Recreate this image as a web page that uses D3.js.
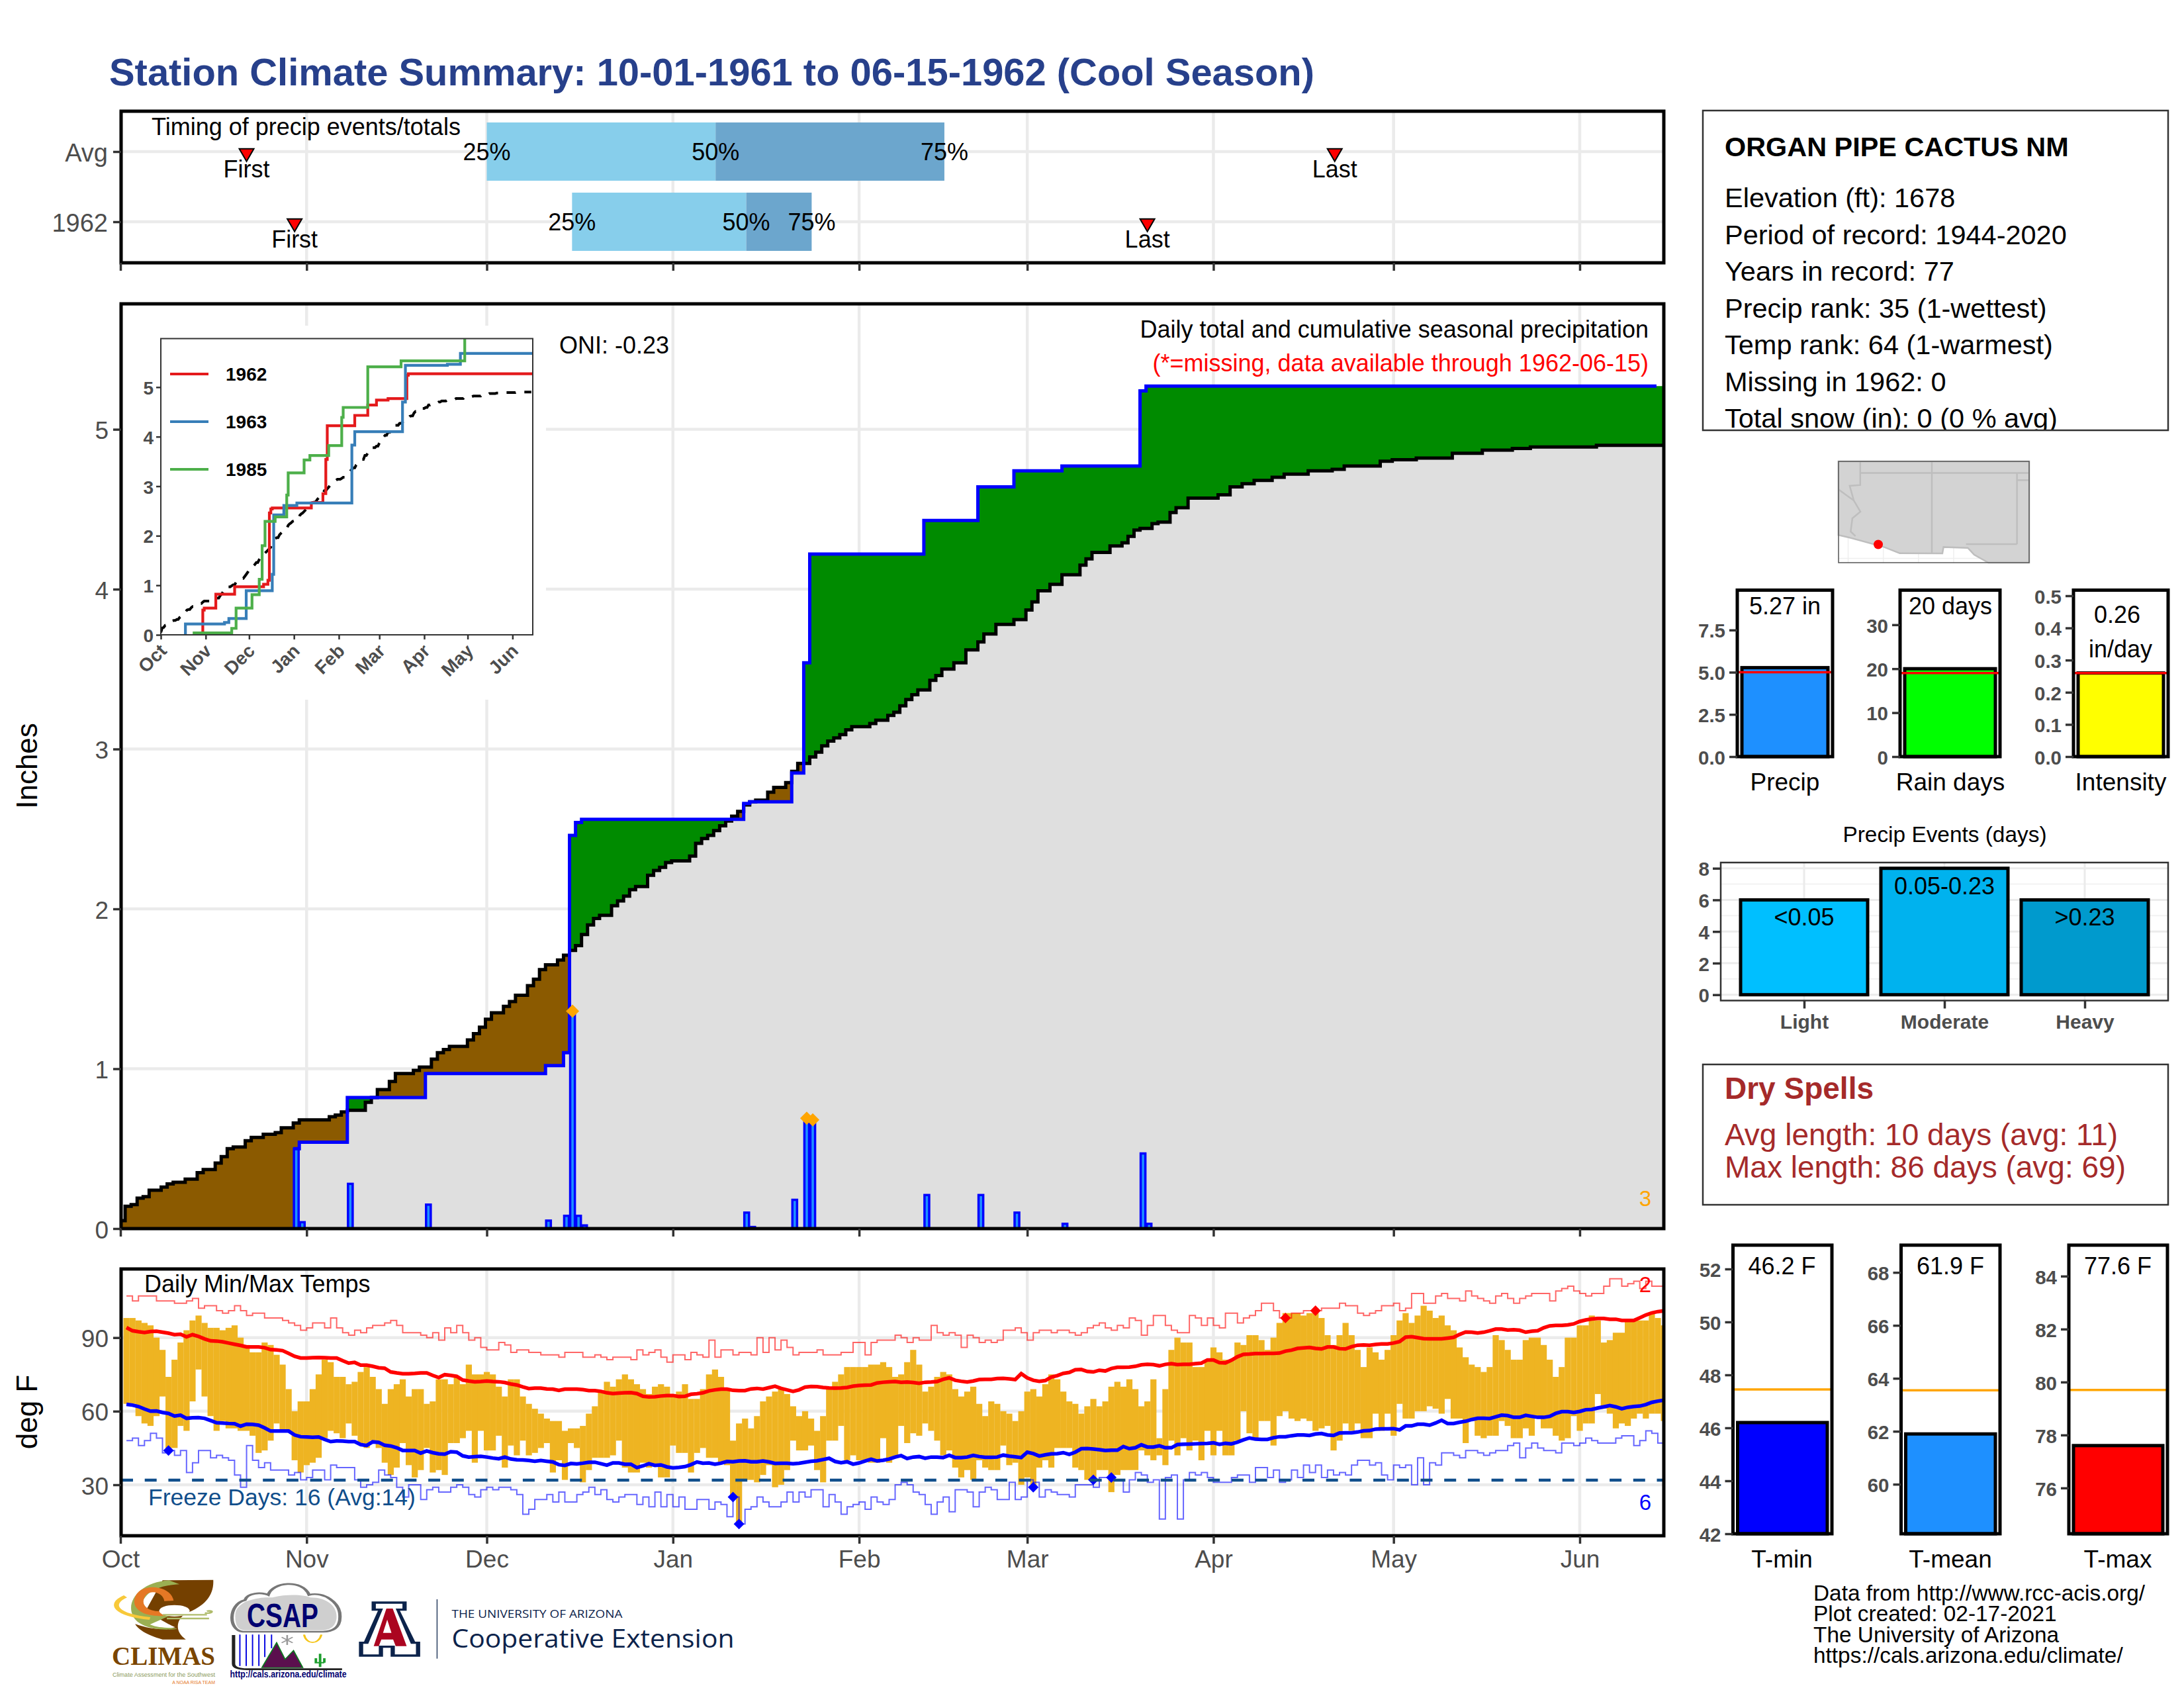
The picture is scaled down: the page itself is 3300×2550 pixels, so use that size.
<!DOCTYPE html>
<html lang="en">
<head>
<meta charset="utf-8">
<title>Station Climate Summary</title>
<script src="https://d3js.org/d3.v7.min.js"></script>
<style>
  html, body { margin: 0; padding: 0; background: #fff; }
  text { font-family: "Liberation Sans", Arial, sans-serif; }
</style>
</head>
<body>
<script type="text/javascript">
'use strict';

// ---- data ----
var seasonStart = "1961-10-01", seasonEnd = "1962-06-15";

// days since Oct 1 with rain, and the amount in inches
var rainDay = [29,30,38,51,71,74,75,76,77,104,105,112,114,115,134,143,149,157,170,171];
var rainAmt = [.50,.04,.28,.15,.05,.08,1.36,.08,.02,.10,.01,.18,.69,.68,.21,.21,.10,.03,.47,.03];
var markedRainDay = [75,114,115];

// long term average cumulative precip, one per day
var avgCum = [.05,.14,.15,.19,.20,.24,.24,.26,.28,.29,.29,.31,.31,.35,.37,.37,.41,.45,.50,.51,.51,.55,.57,.57,.59,.59,.60,.63,.63,.66,
 .68,.68,.68,.68,.68,.70,.71,.73,.74,.74,.74,.79,.82,.87,.87,.92,.97,.97,.97,.99,1.01,1.01,1.06,1.10,1.12,1.14,1.14,1.14,1.18,1.22,
 1.26,1.31,1.35,1.35,1.39,1.42,1.46,1.46,1.52,1.56,1.62,1.65,1.65,1.68,1.71,1.74,1.77,1.84,1.90,1.94,1.96,1.96,2.02,2.05,2.08,2.12,2.14,2.14,2.21,2.24,
 2.26,2.29,2.30,2.30,2.30,2.33,2.41,2.44,2.46,2.49,2.52,2.55,2.58,2.61,2.65,2.67,2.68,2.68,2.73,2.76,2.76,2.79,2.86,2.91,2.91,2.95,2.98,3.02,3.05,3.07,
 3.09,3.12,3.14,3.14,3.14,3.16,3.18,3.18,3.21,3.23,3.27,3.31,3.34,3.37,3.37,3.43,3.46,3.50,3.50,3.54,3.54,3.62,3.62,3.67,3.72,3.72,3.78,3.78,3.78,3.81,
 3.81,3.87,3.92,3.99,3.99,4.03,4.03,4.09,4.09,4.09,4.15,4.19,4.23,4.23,4.23,4.27,4.27,4.29,4.33,4.37,4.38,4.38,4.41,4.42,4.42,4.48,4.51,4.51,4.57,4.57,
 4.57,4.57,4.57,4.59,4.59,4.64,4.64,4.66,4.66,4.68,4.68,4.68,4.70,4.70,4.72,4.72,4.72,4.72,4.74,4.74,4.74,4.74,4.75,4.75,4.77,4.77,4.77,4.77,4.77,4.77,
 4.80,4.80,4.81,4.81,4.81,4.81,4.82,4.82,4.82,4.82,4.82,4.82,4.85,4.85,4.85,4.85,4.85,4.87,4.87,4.87,4.87,4.87,4.88,4.88,4.88,4.89,4.89,4.89,4.89,4.89,
 4.89,4.89,4.89,4.89,4.89,4.89,4.90,4.90,4.90,4.90,4.90,4.90,4.90,4.90,4.90,4.90,4.90];

// other years in the inset: change points of the cumulative line
var y1963Day = [17,44,47,59,77,78,85,94,132,134,167,169,198,207];
var y1963Val = [.22,.25,.33,.89,1.22,2.42,2.61,2.66,3.83,4.10,4.70,5.44,5.46,5.68];
var y1985Day = [23,49,52,63,68,70,72,79,87,88,99,103,116,125,126,143,166,210];
var y1985Val = [.04,.13,.54,.81,1.12,1.80,2.29,2.38,2.82,3.27,3.53,3.62,3.82,4.39,4.59,5.41,5.53,6.2];

// timing strip
var timingRows = ["Avg", "1962"];
var timingQ25 = [61, 75.2], timingQ50 = [99.1, 104.2], timingQ75 = [137.2, 115.1];
var timingFirst = [21, 29], timingLast = [202.2, 171];

// daily max and min temperature, deg F
var tmax = [98,98,97,96,95,90,85,74,81,88,93,97,99,96,94,94,93,94,95,90,87,84,84,88,87,83,79,69,60,64,
 64,69,75,81,80,74,74,71,72,76,78,74,69,63,69,71,73,66,69,69,63,64,73,73,71,74,71,79,75,75,
 76,75,70,66,73,73,66,63,61,59,57,56,56,52,53,53,54,59,62,68,72,70,73,75,73,71,69,67,70,71,
 70,67,68,71,65,65,69,75,77,74,69,48,55,57,53,58,64,66,68,69,67,62,58,60,57,52,58,69,72,75,
 78,78,78,78,79,79,80,78,74,75,80,85,79,68,70,74,76,75,69,66,68,70,63,58,64,63,60,59,56,60,
 68,69,66,71,75,73,68,64,63,59,62,65,62,64,70,72,70,73,69,62,64,73,49,69,85,90,88,88,78,78,
 81,86,84,81,81,88,87,91,91,89,85,90,96,100,100,100,99,100,100,98,91,87,91,96,91,85,78,86,84,81,
 85,91,97,100,96,99,103,101,98,99,95,93,86,82,79,78,76,78,91,89,85,81,81,89,90,90,87,81,74,78,
 90,90,95,95,99,97,88,89,92,92,97,97,97,97,100,98,95];
var tmin = [63,63,58,55,54,58,66,45,45,54,52,64,77,66,58,52,56,53,53,52,52,50,43,44,48,55,52,52,40,35,
 38,39,41,49,52,51,49,55,50,47,45,48,45,39,34,37,47,38,33,36,45,35,36,34,47,47,49,52,39,52,
 44,44,50,37,46,42,48,42,43,45,47,35,40,32,47,45,31,36,41,41,41,42,48,37,35,35,39,37,38,33,
 33,46,43,43,35,43,45,41,41,39,38,25,14,32,32,31,34,38,29,30,36,48,44,44,46,36,31,48,48,54,
 40,42,40,40,39,39,49,39,41,54,47,51,50,55,52,48,42,44,37,33,36,32,40,37,36,36,46,38,39,30,
 33,30,37,40,37,45,45,45,37,36,32,32,36,36,27,34,36,36,36,44,42,40,42,38,48,42,49,44,48,40,
 52,42,52,42,42,48,60,51,49,56,56,46,58,60,57,56,57,56,52,53,54,44,48,55,52,55,49,49,59,52,
 59,50,63,57,57,60,60,62,61,59,65,57,57,47,56,50,49,50,50,56,54,49,49,53,50,58,53,53,50,48,
 49,58,52,55,55,67,61,59,53,55,54,57,59,57,59,59,56];

// climatological mean max and min
var normHigh = [94.1,92.8,92.4,92.1,92.5,92.6,92.2,91.8,91.2,91.4,90.3,91.2,90.5,89.5,88.7,88.6,88.3,87.8,87.3,86.8,86.2,86.2,86.2,85.9,85.1,85,84.7,83.6,82.4,81.7,
 81.7,81.8,81.9,81.8,81.7,81.7,80.6,79.6,79.9,78.8,78.8,78.3,77.7,77.5,76,75.6,75.3,75.3,75.4,75.6,75.6,74.6,73.7,74.9,74.6,74.2,72.7,72.3,72,72.1,
 72.3,72.1,72,71.7,71.1,70.7,69.9,69.2,69.4,69.4,69.1,69,68.5,69,69,69,68.8,68.4,68.4,68.1,67.5,67.2,67.4,67.5,67.6,67.2,66.1,65.8,65.9,66.2,
 66.4,66.4,66,66.1,66.9,67.1,67.5,68.3,68.7,69,69,68.5,68.4,68.4,69.1,69.3,69,69.6,70.2,69.3,68.7,68.1,68.7,69.8,70.1,70,69.7,69.5,69.4,69.5,
 69.7,70.2,70.5,70.6,70.7,71.5,71.8,72,72.1,71.8,71.9,71.7,71.4,71.8,71.9,72.1,73,73.6,72.6,72.2,71.9,72.3,72.9,73,73,73.3,73.4,73.2,72.9,75.3,
 73.6,72.6,72.2,72.5,73.9,74.5,75.4,75.8,76.9,77,76.2,76,76.7,76.4,77.4,77.9,77.9,78,78.3,78.9,79.1,79,78.5,79.1,79.4,79,79.1,79.1,79.4,79.6,
 80.9,80.9,79.8,79.7,80.8,82.2,83.2,83.3,83.5,83.5,83.6,83.6,83.7,84.5,84.9,85.6,85.8,86,85.6,85.4,86.2,86.2,85.5,85.4,86.3,86.9,87,86.9,87.2,87.4,
 87.4,87.8,88.4,90.2,90.4,90,89.6,89.5,89.5,89.5,89.8,90.1,91.3,92.3,92.2,91.9,92.2,92.8,93.5,93.5,93.1,93.2,93,92.2,92.6,92.8,94,94.8,95,95,
 95.2,95.6,96.6,97.2,97.6,97.8,97.8,97.5,97.5,97,97,97,98.1,99.2,100.1,100.6,100.9];
var normLow = [62.8,62.5,61.9,60.9,60,60.1,59.5,59.1,58,58.4,57.1,57.3,57.4,57.1,56.2,55.3,55.2,55,54.9,53.9,54.7,54.6,54.3,53.2,51.9,51.9,51.9,51.9,50.3,49.6,
 49.5,49.4,49.5,48.5,47.6,47.9,47.8,47.6,47.6,46.4,46,47.5,47.3,46.1,45.8,45.1,44,44,44,42.9,43.8,43.1,42.6,42.5,43.5,43.3,41.8,41.3,41.5,41.6,
 41.3,40.9,40.6,41.3,40.5,40.2,40.1,39.9,39.6,39.9,39.6,39.3,38.2,37.9,38.7,38.5,38.8,39.2,39.2,38.6,38,38.9,38.9,38.4,38.4,37,37.7,38.6,37.9,38.1,
 37.3,36.9,37.1,37.4,38.2,39.3,38.8,38.9,38.4,38.8,39.5,39.4,39.7,39.8,39.4,39.4,39.7,39.3,38.7,38.8,38.8,38.6,38.8,39.2,39.6,39.8,40.3,40.8,39.5,39,
 39.4,38.4,38.9,39.7,40.4,39.7,40,40.5,41.3,41.9,40.7,41.3,41.5,40.8,41.3,41.3,41.1,42,41.1,41.1,41.3,42,41.5,41.2,41.2,41.3,42.1,41.7,41.4,41.1,
 43.3,42.7,41.7,42.2,42.6,42.7,43.1,42.4,43.3,44.7,44.8,44.6,44.3,44,44.1,44.1,45.6,44.7,45.1,46.3,45.4,45.4,45.9,45.1,45.1,46.4,46.5,46.6,46.7,46.8,
 46.9,47.1,46.5,46.9,46.7,47.4,48.3,49.1,48.6,48.5,48.5,49.2,49.6,49.6,50,50.3,50.3,50.1,50.7,50.9,50.3,50.1,51.1,51.2,51.2,51.5,52,52.1,52.7,52.8,
 52.8,52.9,52.4,54,54,54.7,54.7,54.3,55.2,56.3,55,55,55.5,55.9,56.6,57.1,57.1,57,57.7,58.4,58.2,57.5,57.5,58.3,57.9,57.5,57.5,57.9,59.1,59.8,
 59.8,59.5,59.9,60.6,60.7,61.3,61.8,62.3,61.8,61,61.6,61.9,62.1,62.7,63.6,64.1,64.5];

// daily records
var recHigh = [107,105,107,107,107,105,105,105,104,104,105,106,102,103,103,101,100,101,103,101,99,100,100,98,98,98,97,96,95,93,
 94,96,96,94,98,94,92,91,93,92,94,95,95,96,97,95,92,92,92,91,90,92,89,94,92,95,92,89,90,86,
 85,85,88,87,84,85,85,84,84,83,83,83,82,84,84,84,82,82,83,82,81,82,82,82,81,85,83,84,85,82,
 80,83,83,81,84,83,82,89,82,85,85,83,84,84,83,90,84,90,85,89,86,83,84,84,84,85,83,83,83,84,
 84,88,88,83,88,89,89,89,91,90,88,90,89,89,95,92,91,92,91,86,91,90,88,89,88,89,93,93,94,92,
 89,92,93,93,92,93,93,92,91,92,94,95,96,94,93,95,94,98,97,91,95,99,99,95,93,92,92,99,98,95,
 98,95,94,100,100,96,98,99,101,104,104,101,98,98,100,100,101,101,101,102,102,102,104,103,103,100,99,100,101,103,
 103,104,101,102,108,108,104,104,107,108,106,106,105,109,107,106,105,104,107,108,106,104,106,107,108,108,108,105,109,110,
 111,109,108,107,108,108,111,114,114,111,112,113,110,113,111,111,112];
var recLow = [48,49,46,48,51,49,43,44,42,44,35,39,44,44,41,42,41,40,34,29,46,40,37,39,36,36,36,34,35,32,
 33,36,36,32,38,37,37,37,32,29,30,31,36,34,33,29,25,30,30,24,28,29,27,27,29,30,29,26,25,28,
 29,28,29,29,28,26,18,20,24,24,26,23,27,23,23,26,27,29,26,28,24,23,25,26,26,22,25,21,27,21,
 26,21,25,20,20,24,24,20,23,22,17,25,14,20,21,25,23,21,21,23,27,23,27,25,28,28,21,26,23,18,
 21,22,23,20,25,23,22,24,30,31,30,27,26,22,18,23,25,19,28,28,27,21,27,29,28,24,24,31,24,25,
 32,31,25,28,27,26,26,25,30,30,30,29,33,33,32,32,27,32,35,34,31,32,16,33,34,16,32,35,34,35,
 33,31,31,31,33,34,34,31,37,37,33,36,31,32,36,33,38,35,38,33,36,34,35,34,38,40,40,38,39,34,
 32,38,37,38,30,41,30,39,38,43,43,42,41,44,44,43,42,43,44,44,46,47,41,45,47,45,44,44,43,47,
 47,46,47,49,48,47,47,47,49,50,50,46,48,52,51,47,52];

// days that tied or beat a record
var hotRecordDay = [193,198], hotRecordTemp = [98,101];
var coldRecordDay = [7,101,102,151,161,164], coldRecordTemp = [44,25,14,29,32,33];

// summary bars
var precipTotal = 5.27, precipAvg = 5.0;
var rainDaysTotal = 20, rainDaysAvg = 19;
var intensityVal = .26, intensityAvg = .26;
var eventCats = ["Light","Moderate","Heavy"];
var eventVals = [6,8,6];
var eventLabels = ["<0.05","0.05-0.23",">0.23"];
var tempVals = [46.2,61.9,77.6];
var tempAvgs = [47.45,63.55,79.7];
var tempLabels = ["T-min","T-mean","T-max"];

var infoLines = ["Elevation (ft): 1678","Period of record: 1944-2020","Years in record: 77",
  "Precip rank: 35 (1-wettest)","Temp rank: 64 (1-warmest)","Missing in 1962: 0","Total snow (in): 0 (0 % avg)"];
var footerLines = ["Data from http://www.rcc-acis.org/","Plot created: 02-17-2021","The University of Arizona","https://cals.arizona.edu/climate/"];

// locator map, lon/lat
var usBorderLon = [-115.69,-114.93,-112.45,-111.33,-108.30,-108.22,-106.49,-106.04,-105.03,-102.13,-102.13,-115.69];
var usBorderLat = [32.64,32.47,31.80,31.36,31.35,31.80,31.74,31.26,30.70,30.70,37.82,37.82];
var stateLines = [
  [[-114.14,37.82],[-114.14,36.16],[-114.89,36.10],[-114.60,35.07],[-114.13,34.29],[-114.70,33.82],[-114.82,32.89],[-114.48,32.57]],
  [[-115.69,35.85],[-114.60,35.07]],
  [[-114.14,37],[-102.13,37]],
  [[-109.05,37.82],[-109.05,31.34]],
  [[-103,37],[-103,32]],
  [[-106.62,32],[-103,32]],
  [[-103,36.5],[-102.13,36.5]]
];
var stationLon = -112.86, stationLat = 31.98;

// ---- page ----
var w = 3300, h = 2550;
var svg = d3.select("body").append("svg").attr("width", w).attr("height", h);
svg.append("rect").attr("width", w).attr("height", h).attr("fill", "#fff");
var defs = svg.append("defs");
var gridCol = "#EBEBEB", axisCol = "#333333", labCol = "#4D4D4D";

function addText(g, x, y, str, size, opt) {
  opt = opt || {};
  var t = g.append("text").attr("x", x).attr("y", y).text(str)
    .attr("font-size", size).attr("fill", opt.fill || "#000")
    .attr("text-anchor", opt.anchor || "start")
    .attr("font-weight", opt.weight || "normal");
  if (opt.family) t.style("font-family", opt.family);
  if (opt.len) t.attr("textLength", opt.len).attr("lengthAdjust", "spacingAndGlyphs");
  return t;
}
function addClip(id, x0, y0, x1, y1) {
  defs.append("clipPath").attr("id", id).append("rect")
    .attr("x", x0).attr("y", y0).attr("width", x1 - x0).attr("height", y1 - y0);
  return "url(#" + id + ")";
}
function frame(g, x0, y0, x1, y1, col, sw) {
  g.append("rect").attr("x", x0).attr("y", y0).attr("width", x1 - x0).attr("height", y1 - y0)
    .attr("fill", "none").attr("stroke", col).attr("stroke-width", sw);
}
function styleAxis(a, size, bold, tickW) {
  a.select(".domain").remove();
  a.selectAll(".tick line").attr("stroke", axisCol).attr("stroke-width", tickW || 3.5);
  a.selectAll(".tick text").attr("fill", labCol).attr("font-size", size)
    .attr("font-weight", bold ? "bold" : "normal")
    .style("font-family", '"Liberation Sans", Arial, sans-serif');
  a.selectAll('.tick text[dy="0.32em"]').attr("dy", "0.38em");
}
function rotatedSquare(size) {
  return d3.symbol().type(d3.symbolSquare).size(size)();
}

addText(svg, 165, 129, "Station Climate Summary: 10-01-1961 to 06-15-1962 (Cool Season)", 57.9, {fill: "#27408B", weight: "bold"});

// shared time axis
var t0 = d3.isoParse(seasonStart + "T00:00:00Z"), t1 = d3.isoParse(seasonEnd + "T00:00:00Z");
var months = d3.utcMonth.range(t0, t1);
var xT = d3.scaleUtc().domain([t0, t1]).range([182, 2514]);
function xd(i) { return xT(new Date(+t0 + i * 864e5)); }
var panelL = 183, panelR = 2514;
var dayW = xd(1) - xd(0);

function monthGrid(g, y0, y1) {
  g.selectAll(null).data(months).enter().append("line")
    .attr("x1", function(d){ return xT(d); }).attr("x2", function(d){ return xT(d); })
    .attr("y1", y0).attr("y2", y1).attr("stroke", gridCol).attr("stroke-width", 4.5);
}
function valueGrid(g, ticks, scale) {
  g.selectAll(null).data(ticks).enter().append("line")
    .attr("x1", panelL).attr("x2", panelR)
    .attr("y1", function(d){ return scale(d); }).attr("y2", function(d){ return scale(d); })
    .attr("stroke", gridCol).attr("stroke-width", 4.5);
}

// ---- timing strip ----
var gTop = svg.append("g");
var topT = 168, topB = 397;
var yTop = d3.scalePoint().domain(timingRows).range([229, 335]);
monthGrid(gTop, topT, topB);
valueGrid(gTop, timingRows, yTop);
var blue1 = "#87CEEB", blue2 = "#6CA6CD", barHalf = 44;
timingRows.forEach(function(r, k) {
  var yc = yTop(r);
  gTop.append("rect").attr("x", xd(timingQ25[k])).attr("width", xd(timingQ50[k]) - xd(timingQ25[k]))
    .attr("y", yc - barHalf).attr("height", 2 * barHalf).attr("fill", blue1);
  gTop.append("rect").attr("x", xd(timingQ50[k])).attr("width", xd(timingQ75[k]) - xd(timingQ50[k]))
    .attr("y", yc - barHalf).attr("height", 2 * barHalf).attr("fill", blue2);
  [[timingQ25[k], "25%"], [timingQ50[k], "50%"], [timingQ75[k], "75%"]].forEach(function(q) {
    addText(gTop, xd(q[0]), yc + 13, q[1], 36, {anchor: "middle"});
  });
  [[timingFirst[k], "First"], [timingLast[k], "Last"]].forEach(function(m) {
    gTop.append("path").attr("d", d3.symbol().type(d3.symbolTriangle).size(210)())
      .attr("transform", "translate(" + xd(m[0]) + "," + (yc + 2) + ") rotate(180)")
      .attr("fill", "#f00").attr("stroke", "#000").attr("stroke-width", 2);
    addText(gTop, xd(m[0]), yc + 39, m[1], 36, {anchor: "middle"});
  });
});
addText(gTop, 229, 204, "Timing of precip events/totals", 36);
frame(gTop, panelL, topT, panelR, topB, "#000", 5);
var axTopX = gTop.append("g").attr("transform", "translate(0," + topB + ")")
  .call(d3.axisBottom(xT).tickValues(months).tickSize(12).tickFormat(""));
styleAxis(axTopX, 30);
var axTopY = gTop.append("g").attr("transform", "translate(" + panelL + ",0)")
  .call(d3.axisLeft(yTop).tickSize(12).tickPadding(8));
styleAxis(axTopY, 38);

// ---- main precip panel ----
var gMain = svg.append("g");
var mainT = 459, mainB = 1856;
var yP = d3.scaleLinear().domain([0, 5.785]).range([mainB, mainT]);
var precipTicks = [0,1,2,3,4,5];
monthGrid(gMain, mainT, mainB);
valueGrid(gMain, precipTicks, yP);

// white patch behind the inset hides the gridlines
gMain.append("rect").attr("x", panelL + 3).attr("y", 492).attr("width", 825 - panelL - 3).attr("height", 1057 - 492).attr("fill", "#fff");

var daily = d3.range(avgCum.length).map(function(){ return 0; });
rainDay.forEach(function(d, k){ daily[d] = rainAmt[k]; });
var cum = Array.from(d3.cumsum(daily));
var rows = avgCum.map(function(a, i){ return {i: i, avg: a, cum: cum[i]}; });
rows.push({i: avgCum.length, avg: avgCum[avgCum.length - 1], cum: cum[cum.length - 1]});
rows.push({i: avgCum.length + 1, avg: avgCum[avgCum.length - 1], cum: cum[cum.length - 1]});
function xm(i) { return xd(i) - 2; }
var clipMain = addClip("clipMain", panelL, mainT, panelR, mainB);
var gArea = gMain.append("g").attr("clip-path", clipMain);
function stepArea(low, high) {
  return d3.area().curve(d3.curveStepAfter)
    .x(function(d){ return xm(d.i); })
    .y0(function(d){ return yP(low(d)); })
    .y1(function(d){ return yP(high(d)); });
}
function lower(d){ return Math.min(d.avg, d.cum); }
function upper(d){ return Math.max(d.avg, d.cum); }
gArea.append("path").datum(rows).attr("fill", "#DFDFDF").attr("d", stepArea(function(){ return 0; }, lower));
gArea.append("path").datum(rows).attr("fill", "#008B00")
  .attr("d", stepArea(function(d){ return d.avg; }, upper));
gArea.append("path").datum(rows).attr("fill", "#8B5A00")
  .attr("d", stepArea(function(d){ return d.cum; }, upper));

// daily bars
gArea.selectAll("rect.rain").data(rainDay).enter().append("rect").attr("class", "rain")
  .attr("x", function(d){ return xm(d) + 1; })
  .attr("width", dayW - 2)
  .attr("y", function(d, k){ return yP(rainAmt[k]); })
  .attr("height", function(d, k){ return mainB - yP(rainAmt[k]); })
  .attr("fill", "#1E90FF").attr("stroke", "#0000FF").attr("stroke-width", 3.5);

var stepLine = d3.line().curve(d3.curveStepAfter)
  .x(function(d){ return xm(d.i); });
gArea.append("path").datum(rows)
  .attr("fill", "none").attr("stroke", "#000").attr("stroke-width", 5)
  .attr("d", stepLine.y(function(d){ return yP(d.avg); }));
gArea.append("path").datum(rows.filter(function(d){ return d.i >= rainDay[0] && d.i < 257; }))
  .attr("fill", "none").attr("stroke", "#0000FF").attr("stroke-width", 5)
  .attr("d", stepLine.y(function(d){ return yP(d.cum); }));

gArea.selectAll("path.mark").data(markedRainDay).enter().append("path").attr("class", "mark")
  .attr("d", rotatedSquare(200))
  .attr("transform", function(d){ return "translate(" + (xm(d) + dayW / 2) + "," + yP(daily[d]) + ") rotate(45)"; })
  .attr("fill", "#FFA500");

addText(gMain, 2491, 510, "Daily total and cumulative seasonal precipitation", 36, {anchor: "end"});
addText(gMain, 2491, 561, "(*=missing, data available through 1962-06-15)", 36, {anchor: "end", fill: "#f00"});
addText(gMain, 845, 534, "ONI: -0.23", 36);
addText(gMain, 2486, 1822, "3", 33, {anchor: "middle", fill: "#FFA500"});
frame(gMain, panelL, mainT, panelR, mainB, "#000", 5);
var axMainX = gMain.append("g").attr("transform", "translate(0," + mainB + ")")
  .call(d3.axisBottom(xT).tickValues(months).tickSize(12).tickFormat(""));
styleAxis(axMainX, 30);
var axMainY = gMain.append("g").attr("transform", "translate(" + panelL + ",0)")
  .call(d3.axisLeft(yP).tickValues(precipTicks).tickSize(12).tickPadding(7).tickFormat(d3.format("d")));
styleAxis(axMainY, 37);
addText(svg, 0, 0, "Inches", 44, {anchor: "middle"}).attr("transform", "translate(56,1157) rotate(-90)");
addText(svg, 0, 0, "deg F", 44, {anchor: "middle"}).attr("transform", "translate(56,2133) rotate(-90)");

// ---- inset ----
var gIn = svg.append("g");
var inL = 243, inR = 805, inT = 511.5, inB = 959;
var xIn = d3.scaleUtc().domain([t0, t1]).range([inL, inR]);
var yIn = d3.scaleLinear().domain([0, 5.98]).range([inB, inT]);
function xdIn(i){ return xIn(new Date(+t0 + i * 864e5)); }
var clipIn = addClip("clipIn", inL, inT, inR, inB);
var gInLines = gIn.append("g").attr("clip-path", clipIn);
var inLine = d3.line().curve(d3.curveStepAfter)
  .x(function(d){ return xdIn(d[0]); }).y(function(d){ return yIn(d[1]); });
function changePoints(days, vals) {
  var pts = [[days[0], 0]];
  days.forEach(function(d, k){ pts.push([d, vals[k]]); });
  pts.push([257, vals[vals.length - 1]]);
  return pts;
}
var inC1962 = "#E41A1C", inC1963 = "#377EB8", inC1985 = "#4DAF4A";
var cum1962 = [];
rainDay.forEach(function(d){ cum1962.push(cum[d]); });
gInLines.append("path").attr("fill", "none").attr("stroke", "#000").attr("stroke-width", 4)
  .attr("stroke-dasharray", "14 13")
  .attr("d", d3.line().x(function(d, i){ return xdIn(i); }).y(function(d){ return yIn(d); })(avgCum));
gInLines.append("path").attr("fill", "none").attr("stroke", inC1962).attr("stroke-width", 4.2)
  .attr("d", inLine(changePoints(rainDay, cum1962)));
gInLines.append("path").attr("fill", "none").attr("stroke", inC1963).attr("stroke-width", 4.2)
  .attr("d", inLine(changePoints(y1963Day, y1963Val)));
gInLines.append("path").attr("fill", "none").attr("stroke", inC1985).attr("stroke-width", 4.2)
  .attr("d", inLine(changePoints(y1985Day, y1985Val)));
frame(gIn, inL, inT, inR, inB, "#333", 2);
var legendY = d3.scalePoint().domain(["1962","1963","1985"]).range([565, 709]);
[["1962", inC1962], ["1963", inC1963], ["1985", inC1985]].forEach(function(l) {
  gIn.append("line").attr("x1", 257).attr("x2", 315).attr("y1", legendY(l[0])).attr("y2", legendY(l[0]))
    .attr("stroke", l[1]).attr("stroke-width", 4.2);
  addText(gIn, 341, legendY(l[0]) + 10, l[0], 28, {weight: "bold"});
});
var axInY = gIn.append("g").attr("transform", "translate(" + inL + ",0)")
  .call(d3.axisLeft(yIn).tickValues([0,1,2,3,4,5]).tickSize(7).tickPadding(4).tickFormat(d3.format("d")));
styleAxis(axInY, 28, true, 2.5);
var axInX = gIn.append("g").attr("transform", "translate(0," + inB + ")")
  .call(d3.axisBottom(xIn).tickValues(months).tickSize(7).tickFormat(d3.utcFormat("%b")));
styleAxis(axInX, 28, true, 2.5);
axInX.selectAll(".tick text")
  .attr("text-anchor", "end").attr("dy", "0").attr("y", 0)
  .attr("transform", "translate(10,26) rotate(-45)");

// ---- temperature panel ----
var gTemp = svg.append("g");
var tempT = 1917, tempB = 2320;
var yF = d3.scaleLinear().domain([30, 90]).range([2243, 2020.7]);
monthGrid(gTemp, tempT, tempB);
valueGrid(gTemp, [30,60,90], yF);
var clipTemp = addClip("clipTemp", panelL, tempT, panelR, tempB);
var gTempIn = gTemp.append("g").attr("clip-path", clipTemp);
gTempIn.selectAll("rect.day").data(tmax).enter().append("rect").attr("class", "day")
  .attr("x", function(d, i){ return xd(i + 1) - dayW / 2; })
  .attr("width", dayW + .15)
  .attr("y", function(d){ return yF(d); })
  .attr("height", function(d, i){ return yF(tmin[i]) - yF(d); })
  .attr("fill", "#EEB422");
var dayLine = d3.line().x(function(d, i){ return xd(i + 1); }).y(function(d){ return yF(d); });
var recLine = d3.line().curve(d3.curveStepAfter).x(function(d, i){ return xd(i + 1); }).y(function(d){ return yF(d); });
gTempIn.append("path").attr("fill", "none").attr("stroke", "#f00").attr("stroke-width", 2).attr("stroke-opacity", .6).attr("d", recLine(recHigh));
gTempIn.append("path").attr("fill", "none").attr("stroke", "#00f").attr("stroke-width", 2).attr("stroke-opacity", .6).attr("d", recLine(recLow));
gTempIn.append("path").attr("fill", "none").attr("stroke", "#f00").attr("stroke-width", 5.5).attr("d", dayLine(normHigh));
gTempIn.append("path").attr("fill", "none").attr("stroke", "#00f").attr("stroke-width", 5.5).attr("d", dayLine(normLow));
gTemp.append("line").attr("x1", panelL).attr("x2", panelR).attr("y1", yF(31.9)).attr("y2", yF(31.9))
  .attr("stroke", "#104E8B").attr("stroke-width", 4.5).attr("stroke-dasharray", "18 17.7");
var diamond = rotatedSquare(128);
hotRecordDay.forEach(function(d, k) {
  gTempIn.append("path").attr("d", diamond).attr("fill", "#f00")
    .attr("transform", "translate(" + xd(d + 1) + "," + yF(hotRecordTemp[k]) + ") rotate(45)");
});
coldRecordDay.forEach(function(d, k) {
  gTempIn.append("path").attr("d", diamond).attr("fill", "#00f")
    .attr("transform", "translate(" + xd(d + 1) + "," + yF(coldRecordTemp[k]) + ") rotate(45)");
});
addText(gTemp, 218, 1952, "Daily Min/Max Temps", 36);
addText(gTemp, 224, 2274, "Freeze Days: 16 (Avg:14)", 35.5, {fill: "#104E8B"});
addText(gTemp, 2486, 1952, "2", 33, {anchor: "middle", fill: "#f00"});
addText(gTemp, 2486, 2281, "6", 33, {anchor: "middle", fill: "#00f"});
frame(gTemp, panelL, tempT, panelR, tempB, "#000", 5);
var axTempX = gTemp.append("g").attr("transform", "translate(0," + tempB + ")")
  .call(d3.axisBottom(xT).tickValues(months).tickSize(12).tickPadding(10).tickFormat(d3.utcFormat("%b")));
styleAxis(axTempX, 37);
var axTempY = gTemp.append("g").attr("transform", "translate(" + panelL + ",0)")
  .call(d3.axisLeft(yF).tickValues([30,60,90]).tickSize(12).tickPadding(7));
styleAxis(axTempY, 37);

// ---- info box ----
var gInfo = svg.append("g");
var clipInfo = addClip("clipInfo", 2573, 167, 3276, 650);
var gInfoTxt = gInfo.append("g").attr("clip-path", clipInfo);
addText(gInfoTxt, 2606, 236, "ORGAN PIPE CACTUS NM", 41.4, {weight: "bold"});
infoLines.forEach(function(l, k){ addText(gInfoTxt, 2606, 313 + k * 55.5, l, 41.5); });
frame(gInfo, 2573, 167, 3276, 650, "#333", 2.5);

// ---- locator map ----
var gMap = svg.append("g");
var mapL = 2778, mapR = 3066, mapT = 697, mapB = 850;
var xLon = d3.scaleLinear().domain([-109.05, -103]).range([2919, 3047.6]);
var yLat = d3.scaleLinear().domain([37, 31.33]).range([714.6, 836.5]);
gMap.append("g").selectAll("line").data(d3.range(-115, -102, 2.5)).enter().append("line")
  .attr("x1", function(d){ return xLon(d); }).attr("x2", function(d){ return xLon(d); })
  .attr("y1", mapT).attr("y2", mapB).attr("stroke", "#EFEFEF").attr("stroke-width", 1.5);
gMap.append("line").attr("x1", mapL).attr("x2", mapR).attr("y1", yLat(31)).attr("y2", yLat(31))
  .attr("stroke", "#EFEFEF").attr("stroke-width", 1.5);
var geoLine = d3.line().x(function(d){ return xLon(d[0]); }).y(function(d){ return yLat(d[1]); });
gMap.append("path").attr("fill", "#D3D3D3").attr("stroke", "#BEBEBE").attr("stroke-width", 2.5)
  .attr("d", geoLine(usBorderLon.map(function(l, k){ return [l, usBorderLat[k]]; })) + "Z");
var clipMap = addClip("clipMap", mapL, mapT, mapR, mapB);
gMap.append("g").attr("clip-path", clipMap).selectAll("path").data(stateLines).enter().append("path")
  .attr("fill", "none").attr("stroke", "#BEBEBE").attr("stroke-width", 2.5)
  .attr("d", geoLine);
gMap.append("circle").attr("cx", xLon(stationLon)).attr("cy", yLat(stationLat)).attr("r", 7).attr("fill", "#f00");
frame(gMap, mapL, mapT, mapR, mapB, "#555", 1.5);

// ---- small bars ----
function smallBar(g, o) {
  var y = d3.scaleLinear().domain([o.base, o.base + (o.bottom - o.top) / o.pxPerUnit]).range([o.bottom, o.top]);
  var pad = 7;
  g.append("rect").attr("x", o.x0 + pad).attr("width", o.x1 - o.x0 - 2 * pad)
    .attr("y", y(o.value)).attr("height", o.bottom - y(o.value))
    .attr("fill", o.fill).attr("stroke", "#000").attr("stroke-width", 5);
  g.append("line").attr("x1", o.x0).attr("x2", o.x1).attr("y1", y(o.avg)).attr("y2", y(o.avg))
    .attr("stroke", o.lineCol).attr("stroke-width", 3.5);
  frame(g, o.x0, o.top, o.x1, o.bottom, "#000", 5);
  var ax = g.append("g").attr("transform", "translate(" + o.x0 + ",0)")
    .call(d3.axisLeft(y).tickValues(o.ticks).tickSize(12).tickPadding(6).tickFormat(d3.format(o.fmt)));
  styleAxis(ax, 29.5, true);
  addText(g, o.labelX, o.labelY, o.label, o.labelSize, {anchor: "middle"});
}
var gBars = svg.append("g");
var precipBarOpt = {x0: 2625, x1: 2769, top: 891.5, bottom: 1143, base: 0, pxPerUnit: 25.5, value: precipTotal, avg: precipAvg,
  fill: "#1E90FF", lineCol: "#f00", ticks: [0,2.5,5,7.5], fmt: ".1f", label: "Precip", labelX: 2697, labelY: 1193.5, labelSize: 37};
var rainBarOpt = {x0: 2871, x1: 3022, top: 891.5, bottom: 1143, base: 0, pxPerUnit: 6.64, value: rainDaysTotal, avg: rainDaysAvg,
  fill: "#00FF00", lineCol: "#f00", ticks: [0,10,20,30], fmt: "d", label: "Rain days", labelX: 2947, labelY: 1193.5, labelSize: 37};
var intensityBarOpt = {x0: 3133, x1: 3276, top: 891.5, bottom: 1143, base: 0, pxPerUnit: 486, value: intensityVal, avg: intensityAvg,
  fill: "#FFFF00", lineCol: "#f00", ticks: [0,.1,.2,.3,.4,.5], fmt: ".1f", label: "Intensity", labelX: 3204.5, labelY: 1193.5, labelSize: 37};
smallBar(gBars, precipBarOpt);
smallBar(gBars, rainBarOpt);
smallBar(gBars, intensityBarOpt);
addText(gBars, 2697, 928, "5.27 in", 36, {anchor: "middle"});
addText(gBars, 2947, 928, "20 days", 36, {anchor: "middle"});
addText(gBars, 3199, 941, "0.26", 36, {anchor: "middle"});
addText(gBars, 3204, 993, "in/day", 36, {anchor: "middle"});

// ---- precip events ----
var gEv = svg.append("g");
var evL = 2600, evR = 3276, evT = 1303, evB = 1511.5;
var yEv = d3.scaleLinear().domain([0, 8]).range([1502.7, 1311.7]);
var xEv = d3.scalePoint().domain(eventCats).range([2726, 3150]);
gEv.selectAll("line.minor").data([1,3,5,7]).enter().append("line").attr("class", "minor")
  .attr("x1", evL).attr("x2", evR)
  .attr("y1", function(d){ return yEv(d); }).attr("y2", function(d){ return yEv(d); })
  .attr("stroke", "#F2F2F2").attr("stroke-width", 2);
gEv.selectAll("line.major").data([0,2,4,6,8]).enter().append("line").attr("class", "major")
  .attr("x1", evL).attr("x2", evR)
  .attr("y1", function(d){ return yEv(d); }).attr("y2", function(d){ return yEv(d); })
  .attr("stroke", gridCol).attr("stroke-width", 3);
gEv.selectAll("line.vert").data(eventCats).enter().append("line").attr("class", "vert")
  .attr("x1", function(d){ return xEv(d); }).attr("x2", function(d){ return xEv(d); })
  .attr("y1", evT).attr("y2", evB).attr("stroke", gridCol).attr("stroke-width", 3);
var eventFill = d3.scaleOrdinal().domain(eventCats).range(["#00BFFF","#00B2EE","#009ACD"]);
gEv.selectAll("rect.ev").data(eventCats).enter().append("rect").attr("class", "ev")
  .attr("x", function(d){ return xEv(d) - 96; }).attr("width", 192)
  .attr("y", function(d, i){ return yEv(eventVals[i]); })
  .attr("height", function(d, i){ return yEv(0) - yEv(eventVals[i]); })
  .attr("fill", function(d){ return eventFill(d); })
  .attr("stroke", "#000").attr("stroke-width", 5);
eventCats.forEach(function(c, i) {
  addText(gEv, xEv(c), yEv(eventVals[i]) + 39, eventLabels[i], 36, {anchor: "middle"});
});
frame(gEv, evL, evT, evR, evB, "#333", 2.5);
var axEvY = gEv.append("g").attr("transform", "translate(" + evL + ",0)")
  .call(d3.axisLeft(yEv).tickValues([0,2,4,6,8]).tickSize(12).tickPadding(5).tickFormat(d3.format("d")));
styleAxis(axEvY, 29.5, true);
var axEvX = gEv.append("g").attr("transform", "translate(0," + evB + ")")
  .call(d3.axisBottom(xEv).tickSize(12).tickPadding(9));
styleAxis(axEvX, 30, true);
addText(gEv, 2938.5, 1272, "Precip Events (days)", 33.4, {anchor: "middle"});

// ---- dry spells ----
var gDry = svg.append("g"), dryCol = "#A52A2A";
frame(gDry, 2573, 1608, 3276, 1820, "#333", 2.5);
addText(gDry, 2606, 1660, "Dry Spells", 46, {fill: dryCol, weight: "bold"});
addText(gDry, 2606, 1730, "Avg length: 10 days (avg: 11)", 46, {fill: dryCol});
addText(gDry, 2606, 1779, "Max length: 86 days (avg: 69)", 46, {fill: dryCol});

// ---- temperature bars ----
var tempBarOpts = [
  {x0: 2618.5, x1: 2768, base: 42, ticks: [42,44,46,48,50,52], fill: "#0000FF", labelX: 2692.5, valX: 2692.5},
  {x0: 2872.5, x1: 3022, base: 58.13, ticks: [60,62,64,66,68], fill: "#1E90FF", labelX: 2947, valX: 2947},
  {x0: 3126, x1: 3275, base: 74.27, ticks: [76,78,80,82,84], fill: "#FF0000", labelX: 3200, valX: 3200}
];
tempBarOpts.forEach(function(o, k) {
  smallBar(gBars, {x0: o.x0, x1: o.x1, top: 1881, bottom: 2317, base: o.base, pxPerUnit: 40, value: tempVals[k], avg: tempAvgs[k],
    fill: o.fill, lineCol: "#FFA500", ticks: o.ticks, fmt: "d", label: tempLabels[k], labelX: o.labelX, labelY: 2368, labelSize: 37});
  addText(gBars, o.valX, 1925, tempVals[k].toFixed(1) + " F", 36, {anchor: "middle"});
});

footerLines.forEach(function(l, k){ addText(svg, 2740, 2418 + k * 31.4, l, 33.4); });

// ---- logos, sketched by hand ----
var gLogo = svg.append("g").attr("transform", "translate(150,2330) scale(0.638,0.3333)");
gLogo.append("path").attr("fill", "#744000")
  .attr("d", "M150,172 L270,170 C272,240 250,290 205,322 C185,345 175,400 205,440 L150,440 C110,420 90,390 85,370 C130,400 160,395 180,385 C150,360 130,330 110,310 Z");
gLogo.append("path").attr("fill", "#9BAF52")
  .attr("d", "M165,172 C100,180 65,260 78,325 C85,375 130,405 185,392 C170,385 140,390 120,372 L170,330 L100,300 C100,240 130,195 190,190 Z");
gLogo.append("path").attr("fill", "none").attr("stroke", "#E57825").attr("stroke-width", 22)
  .attr("d", "M165,265 C160,210 115,200 100,235 C82,285 105,330 155,322");
gLogo.append("path").attr("fill", "none").attr("stroke", "#F8C93A").attr("stroke-width", 12)
  .attr("d", "M62,245 C20,280 40,330 120,345");
gLogo.append("ellipse").attr("cx", 178).attr("cy", 310).attr("rx", 36).attr("ry", 26).attr("fill", "#fff");
gLogo.append("path").attr("fill", "none").attr("stroke", "#B0BC6C").attr("stroke-width", 7)
  .attr("d", "M150,328 H255 M160,345 H260 M250,320 C270,325 270,305 255,312");
gLogo.append("path").attr("fill", "#fff").attr("stroke", "#777").attr("stroke-width", 8)
  .attr("d", "M340,405 C305,400 305,280 345,262 C350,228 385,225 400,238 C410,180 480,165 497,238 C530,222 572,270 570,340 C570,390 550,405 530,405 Z");
gLogo.append("path").attr("fill", "#CFCFCF").attr("d", "M322,335 C322,300 330,290 345,270 C380,245 400,250 410,250 C450,230 490,240 500,250 C540,250 562,290 562,335 C562,380 545,398 530,398 L345,398 C330,398 322,380 322,335 Z");
gLogo.append("path").attr("fill", "none").attr("stroke", "#222").attr("stroke-width", 8)
  .attr("d", "M318,420 L318,550 Q318,575 350,575 L575,575");
gLogo.append("path").attr("fill", "none").attr("stroke", "#0000E0").attr("stroke-width", 3)
  .attr("d", "M333,418 V560 M348,418 V560 M363,418 V560 M378,418 V560 M392,418 V520 M408,418 V480");
gLogo.append("path").attr("fill", "#5B0F4E").attr("stroke", "#0B7A1E").attr("stroke-width", 3)
  .attr("d", "M385,568 L420,455 L440,530 L460,490 L482,568 Z");
gLogo.append("path").attr("fill", "none").attr("stroke", "#999").attr("stroke-width", 4)
  .attr("d", "M445,420 V465 M432,430 L458,455 M458,430 L432,455");
gLogo.append("path").attr("fill", "none").attr("stroke", "#F5C518").attr("stroke-width", 5)
  .attr("d", "M485,418 C490,465 520,465 526,418");
gLogo.append("path").attr("fill", "none").attr("stroke", "#1E9E2E").attr("stroke-width", 6)
  .attr("d", "M523,505 V565 M513,525 V545 H533 M533,525 V545");
gLogo.append("path").attr("fill", "#0C234B")
  .attr("d", "M645,268 H728 V310 H712 L748,450 H760 V518 H690 V478 H672 V518 H615 V450 H627 L660,310 H645 Z");
gLogo.append("path").attr("fill", "#fff")
  .attr("d", "M655,278 H718 V300 H702 L738,460 H750 V508 H700 V468 H662 V508 H625 V460 H637 L672,300 H655 Z");
gLogo.append("path").attr("fill", "#AB0520")
  .attr("d", "M680,300 H695 L728,470 H702 L696,440 H668 L662,470 H650 Z");
gLogo.append("path").attr("fill", "#fff").attr("d", "M682,350 L692,410 H672 Z");
gLogo.append("line").attr("x1", 800).attr("x2", 800).attr("y1", 258).attr("y2", 527)
  .attr("stroke", "#0C234B").attr("stroke-width", 2);

addText(svg, 169, 2515, "CLIMAS", 40, {fill: "#7A4500", weight: "bold", family: '"Liberation Serif", serif', len: 156});
addText(svg, 170, 2533, "Climate Assessment for the Southwest", 9.5, {fill: "#8A9A5B", len: 155});
addText(svg, 325, 2544, "A NOAA RISA TEAM", 7, {fill: "#E57825", anchor: "end"});
addText(svg, 373, 2458, "CSAP", 50, {fill: "#000070", weight: "bold", len: 108});
addText(svg, 347.5, 2534, "http://cals.arizona.edu/climate", 14, {fill: "#000070", weight: "bold", len: 176});
addText(svg, 682.5, 2444, "THE UNIVERSITY OF ARIZONA", 16, {fill: "#0C234B", family: '"Open Sans", sans-serif', len: 258});
addText(svg, 682.5, 2489, "Cooperative Extension", 38, {fill: "#0C234B", family: '"Open Sans", sans-serif', len: 427});
</script>
</body>
</html>
